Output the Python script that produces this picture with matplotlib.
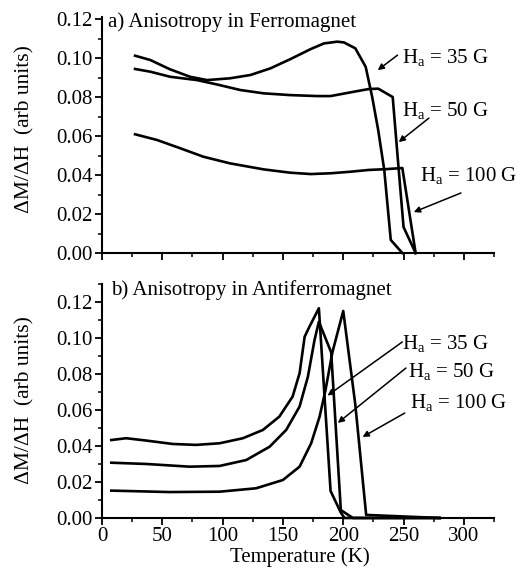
import matplotlib
matplotlib.use("Agg")
import matplotlib.pyplot as plt
from matplotlib.ticker import MultipleLocator, FormatStrFormatter

plt.rcParams['font.family'] = ['Liberation Serif', 'DejaVu Serif']
plt.rcParams['mathtext.fontset'] = 'custom'
plt.rcParams['mathtext.rm'] = 'Liberation Serif'
plt.rcParams['mathtext.it'] = 'Liberation Serif'

# ---- Panel a) Ferromagnet ----
fm_t_35 = [27.4, 40, 56.5, 73, 87, 106, 123, 139.6, 156, 173, 184, 195, 200.6, 210, 218.6, 224, 229, 234, 239.4, 249]
fm_y_35 = [0.1012, 0.099, 0.0942, 0.0904, 0.0887, 0.0896, 0.0913, 0.0947, 0.0994, 0.1046, 0.1075, 0.1084, 0.108,
           0.105, 0.0955, 0.080, 0.063, 0.0426, 0.0067, 0.0]
fm_t_50 = [27.4, 40, 56.5, 78.7, 95, 114.7, 134, 156, 178.5, 189.5, 206, 221, 229, 241, 246, 250, 260]
fm_y_50 = [0.0944, 0.093, 0.0904, 0.0887, 0.0865, 0.0836, 0.0819, 0.081, 0.0805, 0.0805, 0.0824, 0.0841, 0.0843,
           0.080, 0.0426, 0.0133, 0.0]
fm_t_100 = [27.4, 45.5, 65, 84, 106, 134, 156, 173, 189.5, 206, 221, 235, 249, 260]
fm_y_100 = [0.0609, 0.058, 0.0537, 0.0494, 0.046, 0.0429, 0.0412, 0.0405, 0.0409, 0.0417, 0.0426, 0.043, 0.0436, 0.0]

# ---- Panel b) Antiferromagnet ----
afm_t_35 = [7.7, 20, 36.7, 58.8, 78, 97.5, 116.8, 133.4, 147, 158, 163.8, 168, 172, 179.8, 189.5, 198, 201, 280]
afm_y_35 = [0.0433, 0.0443, 0.043, 0.0411, 0.0406, 0.0415, 0.0443, 0.0489, 0.0563, 0.0674, 0.0804, 0.1007, 0.1063,
            0.1165, 0.0150, 0.003, 0.0, 0.0]
afm_t_50 = [7.7, 36.7, 72.7, 97.5, 119.6, 139, 152.7, 163.8, 170.7, 176.2, 179.8, 190, 198, 208, 280]
afm_y_50 = [0.0307, 0.030, 0.0285, 0.0289, 0.0322, 0.0396, 0.0489, 0.0619, 0.0785, 0.0989, 0.109, 0.092, 0.0044,
            0.0, 0.0]
afm_t_100 = [7.7, 56, 97.5, 127.8, 150, 163.8, 173.4, 180.4, 185.3, 191, 200, 210, 219, 280]
afm_y_100 = [0.0152, 0.0144, 0.0146, 0.0165, 0.0211, 0.0285, 0.0415, 0.0563, 0.0711, 0.092, 0.115, 0.063, 0.0017, 0.0]

labels = [r'H$_{\mathregular{a}}$ = 35 G', r'H$_{\mathregular{a}}$ = 50 G', r'H$_{\mathregular{a}}$ = 100 G']
x_ticks = [0, 50, 100, 150, 200, 250, 300]
y_ticks = [0.00, 0.02, 0.04, 0.06, 0.08, 0.10, 0.12]

FS = 15
LW = 1.9

fig = plt.figure(figsize=(5.22, 5.74), dpi=100)
axL, axW = 0.1954, 0.751
ax1 = fig.add_axes([axL, 0.5592, axW, 0.411])
ax2 = fig.add_axes([axL, 0.0976, axW, 0.4077])

def style(ax, ytop, show_xlabels):
    ax.set_xlim(0, 325)
    ax.set_ylim(0, ytop)
    for s in ['top', 'right']:
        ax.spines[s].set_visible(False)
    for s in ['left', 'bottom']:
        ax.spines[s].set_linewidth(1.5)
    ax.set_xticks(x_ticks)
    ax.set_yticks(y_ticks)
    ax.xaxis.set_minor_locator(MultipleLocator(25))
    ax.yaxis.set_minor_locator(MultipleLocator(0.01))
    ax.yaxis.set_major_formatter(FormatStrFormatter('%.2f'))
    ax.tick_params(which='major', direction='out', length=5, width=1.3, labelsize=FS, pad=1.5)
    ax.tick_params(which='minor', direction='out', length=3, width=1.1)
    if not show_xlabels:
        ax.tick_params(axis='x', labelbottom=False)

style(ax1, 0.121, False)
style(ax2, 0.13, True)

for t, y in [(fm_t_35, fm_y_35), (fm_t_50, fm_y_50), (fm_t_100, fm_y_100)]:
    ax1.plot(t, y, color='black', lw=LW, solid_joinstyle='round', clip_on=False)
for t, y in [(afm_t_35, afm_y_35), (afm_t_50, afm_y_50), (afm_t_100, afm_y_100)]:
    ax2.plot(t, y, color='black', lw=LW, solid_joinstyle='round', clip_on=False)

ax1.text(5, 0.1185, 'a) Anisotropy in Ferromagnet', fontsize=FS, va='center', ha='left')
ax2.text(7.5, 0.1267, 'b) Anisotropy in Antiferromagnet', fontsize=FS, va='center', ha='left')

arrow = dict(arrowstyle='-|>', color='black', lw=1.1, mutation_scale=9, shrinkA=0, shrinkB=0)
# panel a labels and arrows
a_lab = [(249, 0.1005), (249, 0.0733), (264, 0.040)]
a_arr = [((245, 0.1015), (228.6, 0.0938)), ((271, 0.0692), (246, 0.0569)), ((297.6, 0.0308), (258.5, 0.021))]
for lab, (x, y), (tail, head) in zip(labels, a_lab, a_arr):
    ax1.text(x, y, lab, fontsize=FS, va='center', ha='left')
    ax1.annotate('', xy=head, xytext=tail, arrowprops=arrow)

# panel b labels and arrows
b_lab = [(249, 0.0972), (253.5, 0.0811), (255, 0.0644)]
b_arr = [((249, 0.0978), (187, 0.068)), ((252, 0.0833), (195.5, 0.0528)), ((251, 0.0583), (216, 0.045))]
for lab, (x, y), (tail, head) in zip(labels, b_lab, b_arr):
    ax2.text(x, y, lab, fontsize=FS, va='center', ha='left')
    ax2.annotate('', xy=head, xytext=tail, arrowprops=arrow)

fig.text(0.048, 0.775, 'ΔM/ΔH  (arb units)', rotation=90, fontsize=FS + 0.5, ha='center', va='center')
fig.text(0.048, 0.303, 'ΔM/ΔH  (arb units)', rotation=90, fontsize=FS + 0.5, ha='center', va='center')
fig.text(0.575, 0.0296, 'Temperature (K)', fontsize=FS, ha='center', va='center')

fig.savefig('out.png', dpi=100)
